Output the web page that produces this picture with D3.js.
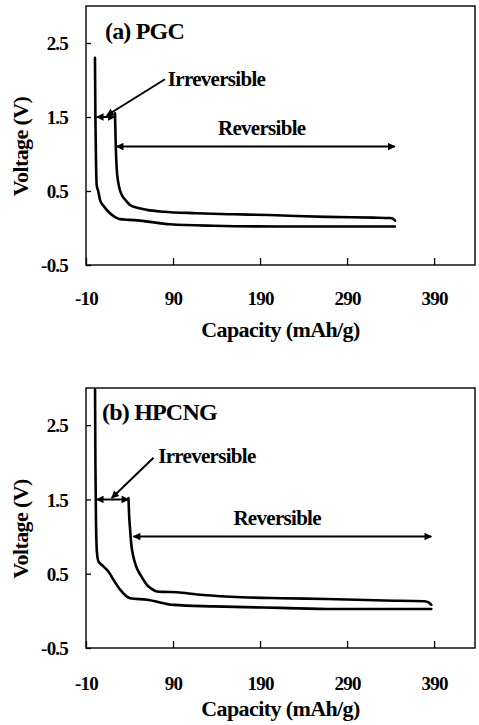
<!DOCTYPE html>
<html>
<head>
<meta charset="utf-8">
<script src="https://cdn.jsdelivr.net/npm/d3@7"></script>
<style>
  html, body { margin: 0; padding: 0; background: #fff; }
  svg { display: block; }
  text { font-family: "Liberation Serif", "Times New Roman", serif; font-weight: bold; fill: #000; }
</style>
</head>
<body>
<div id="chart"></div>
<script>
// ---------- data ----------
const xTicks = [-10, 90, 190, 290, 390];
const xTickLabels = ["-10", "90", "190", "290", "390"];
const yTicks = [-0.5, 0.5, 1.5, 2.5];
const yTickLabels = ["-0.5", "0.5", "1.5", "2.5"];

// (a) PGC – first discharge
const pgcCap1 = [0.3, 0.8, 1.5, 2.3, 4, 6.1, 10, 17.6, 23, 29, 40, 52, 86.5, 136, 213, 280, 345];
const pgcV1   = [2.3, 1.5, 0.9, 0.58, 0.5, 0.38, 0.3, 0.2, 0.15, 0.12, 0.11, 0.1, 0.05, 0.03, 0.02, 0.02, 0.02];
// (a) PGC – reversible curve
const pgcCap2 = [23.3, 24.0, 25.3, 27, 29, 31, 36.7, 40.5, 50, 60, 79, 117, 160, 200, 266, 320, 339, 343, 345];
const pgcV2   = [1.55, 1.2, 0.8, 0.62, 0.51, 0.45, 0.36, 0.31, 0.27, 0.245, 0.22, 0.2, 0.185, 0.175, 0.15, 0.14, 0.135, 0.125, 0.1];

// (b) HPCNG – first discharge
const hpCap1 = [0.4, 0.8, 1.5, 2.5, 4.2, 10, 15.7, 21.5, 29.2, 40.7, 60, 90.7, 136.7, 213.6, 275, 386.8];
const hpV1   = [2.98, 2.0, 1.2, 0.8, 0.67, 0.6, 0.53, 0.42, 0.285, 0.17, 0.15, 0.08, 0.06, 0.04, 0.025, 0.025];
// (b) HPCNG – reversible curve
const hpCap2 = [38.8, 39.5, 40.7, 42, 44.6, 46.5, 49, 52.2, 56, 60, 65, 71.5, 80, 94.6, 117.6, 156, 213.6, 266, 333, 379, 384, 386.8];
const hpV2   = [1.52, 1.3, 1.09, 0.9, 0.72, 0.64, 0.56, 0.49, 0.42, 0.35, 0.3, 0.26, 0.255, 0.25, 0.22, 0.19, 0.17, 0.16, 0.14, 0.13, 0.11, 0.08];

const panelTitles = ["(a) PGC", "(b) HPCNG"];
const xTitle = "Capacity (mAh/g)";
const yTitle = "Voltage (V)";

// annotation values (data units)
const irrevArrowA = [2.3, 23.3, 1.5];
const revArrowA   = [25.2, 344.8, 1.1];
const irrevArrowB = [2.3, 38.8, 1.5];
const revArrowB   = [44.6, 386.8, 1.0];

// ---------- layout ----------
const W = 479, H = 725;
const xDomain = [-10, 437];
const yDomain = [-0.5, 3.0];

const svg = d3.select("#chart").append("svg").attr("width", W).attr("height", H);

const defs = svg.append("defs");
defs.append("marker")
  .attr("id", "ah").attr("viewBox", "0 0 10 10")
  .attr("refX", 9).attr("refY", 5)
  .attr("markerWidth", 4.5).attr("markerHeight", 3.8)
  .attr("markerUnits", "strokeWidth")
  .attr("orient", "auto-start-reverse")
  .append("path").attr("d", "M0,0 L10,5 L0,10 Z").attr("fill", "#000");

function toPts(c, v) { return c.map((d, i) => [d, v[i]]); }

const panels = [
  {
    top: 6, bottom: 265, left: 86, right: 475,
    title: panelTitles[0], titlePos: [11.8, 2.55],
    curves: [toPts(pgcCap1, pgcV1), toPts(pgcCap2, pgcV2)],
    irrev: irrevArrowA, rev: revArrowA,
    irrevText: [84, 1.92], pointer: [[80.7, 2.01], [13.8, 1.52]],
    revText: [141.6, 1.26],
    labelOff: 40, titleOff: 72
  },
  {
    top: 388, bottom: 648, left: 86, right: 475,
    title: panelTitles[1], titlePos: [8.4, 2.57],
    curves: [toPts(hpCap1, hpV1), toPts(hpCap2, hpV2)],
    irrev: irrevArrowB, rev: revArrowB,
    irrevText: [73, 1.99], pointer: [[67.6, 2.06], [19.6, 1.52]],
    revText: [159.4, 1.15],
    labelOff: 42, titleOff: 68
  }
];

panels.forEach(p => {
  const x = d3.scaleLinear().domain(xDomain).range([p.left, p.right]);
  const y = d3.scaleLinear().domain(yDomain).range([p.bottom, p.top]);
  const g = svg.append("g");

  // frame
  g.append("rect")
    .attr("x", p.left).attr("y", p.top)
    .attr("width", p.right - p.left).attr("height", p.bottom - p.top)
    .attr("fill", "none").attr("stroke", "#000").attr("stroke-width", 1.4);

  // x axis (inner ticks)
  const xa = g.append("g").attr("transform", `translate(0,${p.bottom})`)
    .call(d3.axisBottom(x).tickValues(xTicks).tickSizeInner(-7).tickSizeOuter(0)
      .tickFormat((d, i) => xTickLabels[i]));
  xa.select(".domain").remove();
  xa.selectAll(".tick line").attr("stroke", "#000").attr("stroke-width", 1.3);
  xa.selectAll(".tick text")
    .attr("y", p.labelOff).attr("dy", 0)
    .style("font-size", "19px").style("letter-spacing", "-0.8px")
    .attr("font-family", null).attr("fill", "#000");

  // y axis (inner ticks)
  const ya = g.append("g").attr("transform", `translate(${p.left},0)`)
    .call(d3.axisLeft(y).tickValues(yTicks).tickSizeInner(-5).tickSizeOuter(0)
      .tickFormat((d, i) => yTickLabels[i]));
  ya.select(".domain").remove();
  ya.selectAll(".tick line").attr("stroke", "#000").attr("stroke-width", 1.3);
  ya.selectAll(".tick text")
    .attr("x", -18).attr("dy", "0.36em")
    .style("font-size", "19px").style("letter-spacing", "-0.8px")
    .attr("font-family", null).attr("fill", "#000");

  // axis titles
  g.append("text")
    .attr("x", (p.left + p.right) / 2).attr("y", p.bottom + p.titleOff)
    .attr("text-anchor", "middle")
    .style("font-size", "22px").style("letter-spacing", "-0.6px")
    .text(xTitle);
  g.append("text")
    .attr("transform", `translate(28,${(p.top + p.bottom) / 2 + 11}) rotate(-90)`)
    .attr("text-anchor", "middle")
    .style("font-size", "22px").style("letter-spacing", "-0.6px")
    .text(yTitle);

  // curves
  const line = d3.line().x(d => x(d[0])).y(d => y(d[1])).curve(d3.curveMonotoneX);
  p.curves.forEach(c => {
    g.append("path").datum(c).attr("d", line)
      .attr("fill", "none").attr("stroke", "#000").attr("stroke-width", 2.6)
      .attr("stroke-linejoin", "round").attr("stroke-linecap", "round");
  });

  // panel title
  g.append("text")
    .attr("x", x(p.titlePos[0])).attr("y", y(p.titlePos[1]))
    .style("font-size", "24px").style("letter-spacing", "-0.8px")
    .text(p.title);

  // double arrows
  [p.irrev, p.rev].forEach(a => {
    g.append("line")
      .attr("x1", x(a[0])).attr("x2", x(a[1]))
      .attr("y1", y(a[2])).attr("y2", y(a[2]))
      .attr("stroke", "#000").attr("stroke-width", 2)
      .attr("marker-start", "url(#ah)").attr("marker-end", "url(#ah)");
  });

  // pointer line
  g.append("line")
    .attr("x1", x(p.pointer[0][0])).attr("y1", y(p.pointer[0][1]))
    .attr("x2", x(p.pointer[1][0])).attr("y2", y(p.pointer[1][1]))
    .attr("stroke", "#000").attr("stroke-width", 2)
    .attr("marker-end", "url(#ah)");

  // labels
  g.append("text")
    .attr("x", x(p.irrevText[0])).attr("y", y(p.irrevText[1]))
    .style("font-size", "21px").style("letter-spacing", "-0.7px")
    .text("Irreversible");
  g.append("text")
    .attr("x", x(p.revText[0])).attr("y", y(p.revText[1]))
    .style("font-size", "21px").style("letter-spacing", "-0.7px")
    .text("Reversible");
});
</script>
</body>
</html>
